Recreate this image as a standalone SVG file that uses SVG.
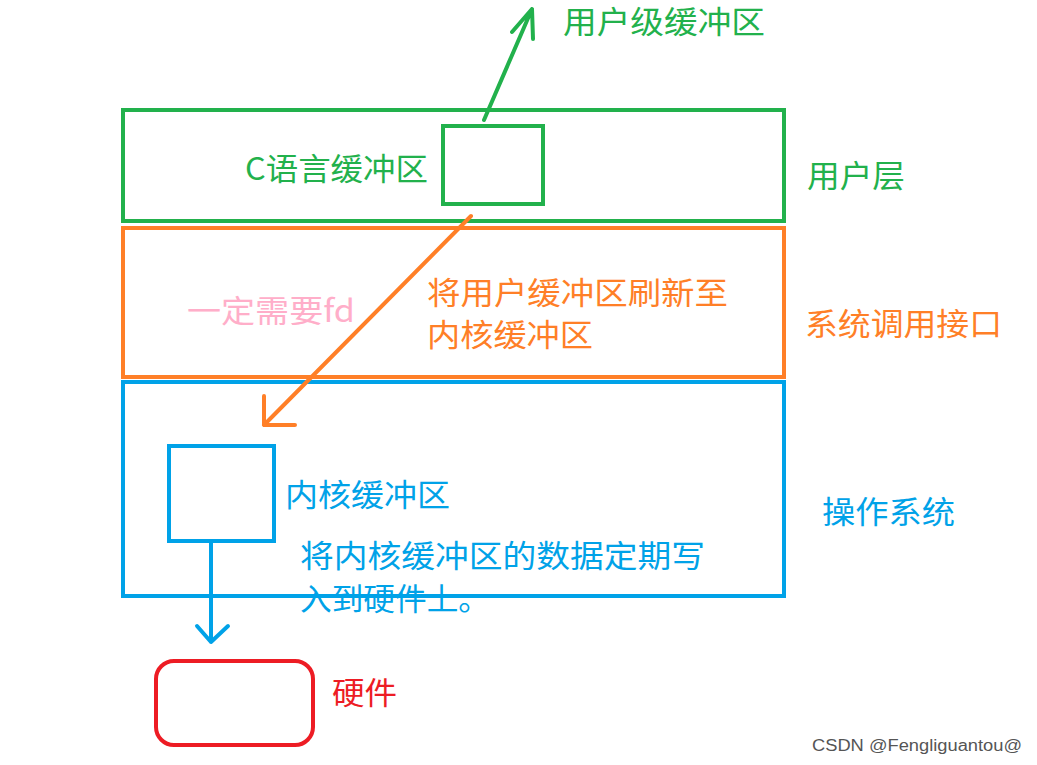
<svg xmlns="http://www.w3.org/2000/svg" width="1037" height="765" viewBox="0 0 1037 765">
<style>
text{font-family:"Noto Sans CJK SC","Noto Sans",sans-serif;font-size:31px}
.g{fill:#22B14C}.o{fill:#FF7F27}.b{fill:#00A2E8}.r{fill:#ED1C24}.p{fill:#FFAEC9}
.box{fill:none;stroke-width:4}
.ln{fill:none;stroke-width:4;stroke-linecap:round;stroke-linejoin:round}
</style>
<rect width="1037" height="765" fill="#fff"/>
<g id="user-layer">
<rect class="box" x="123" y="110" width="661" height="111" stroke="#22B14C"/>
<text class="g" x="807" y="187" textLength="98" lengthAdjust="spacingAndGlyphs">用户层</text>
</g>
<g id="c-buffer">
<rect class="box" x="443" y="126" width="100" height="78" stroke="#22B14C"/>
<text class="g" x="245" y="180" textLength="183" lengthAdjust="spacingAndGlyphs">C语言缓冲区</text>
</g>
<g id="user-level-buffer">
<text class="g" x="563" y="33" textLength="202" lengthAdjust="spacingAndGlyphs">用户级缓冲区</text>
</g>
<g id="syscall-layer">
<rect class="box" x="123" y="228" width="661" height="149" stroke="#FF7F27"/>
<text class="p" x="187" y="322" textLength="168" lengthAdjust="spacingAndGlyphs">一定需要fd</text>
<text class="o" x="427" y="304" textLength="301" lengthAdjust="spacingAndGlyphs">将用户缓冲区刷新至</text>
<text class="o" x="427" y="346" textLength="166" lengthAdjust="spacingAndGlyphs">内核缓冲区</text>
<text class="o" x="805" y="335" textLength="197" lengthAdjust="spacingAndGlyphs">系统调用接口</text>
</g>
<g id="os-layer">
<rect class="box" x="123" y="382" width="661" height="214" stroke="#00A2E8"/>
<text class="b" x="822" y="523" textLength="133" lengthAdjust="spacingAndGlyphs">操作系统</text>
<text class="b" x="300" y="567" textLength="405" lengthAdjust="spacingAndGlyphs">将内核缓冲区的数据定期写</text>
<text class="b" x="300" y="610" textLength="190" lengthAdjust="spacingAndGlyphs">入到硬件上。</text>
</g>
<g id="kernel-buffer">
<rect class="box" x="169" y="446" width="105" height="95" stroke="#00A2E8"/>
<text class="b" x="285" y="506" textLength="165" lengthAdjust="spacingAndGlyphs">内核缓冲区</text>
</g>
<g id="hardware">
<rect class="box" x="156" y="661" width="157" height="84" rx="18" stroke="#ED1C24"/>
<text class="r" x="332" y="704" textLength="65" lengthAdjust="spacingAndGlyphs">硬件</text>
</g>
<g id="connectors">
<path class="ln" stroke="#22B14C" d="M484 120 L532 9 M512 32 L532 9 L533 39"/>
<path class="ln" stroke="#FF7F27" d="M471 216 L264 425 M264 396 L264 425 L295 425"/>
<path class="ln" stroke="#00A2E8" d="M211 541 L211 642 M197 626 L211 642 L228 626"/>
</g>
<text x="812" y="751" style="font-family:'Liberation Sans',sans-serif;font-size:16px" fill="#555" textLength="210" lengthAdjust="spacingAndGlyphs">CSDN @Fengliguantou@</text>
</svg>
